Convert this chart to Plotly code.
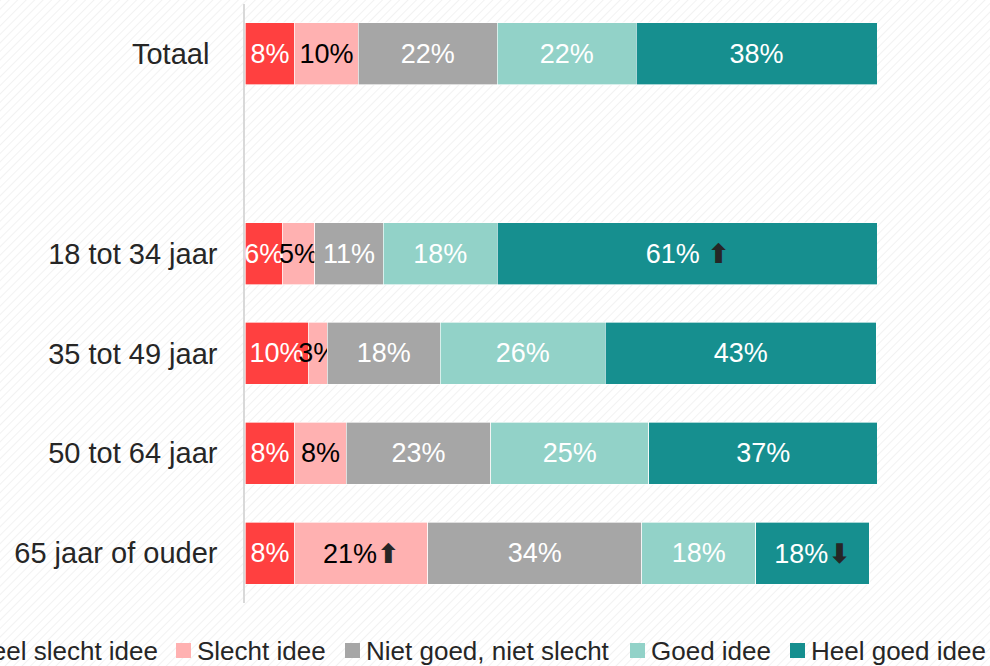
import base64
import plotly.graph_objects as go

# rijen (de lege rij zorgt voor de ruimte onder "Totaal")
categories = ["Totaal\u00a0", "18 tot 34 jaar", "35 tot 49 jaar", "50 tot 64 jaar", "65 jaar of ouder"]
axis_order = ["Totaal\u00a0", " ", "18 tot 34 jaar", "35 tot 49 jaar", "50 tot 64 jaar", "65 jaar of ouder"]

series_names = ["Heel slecht idee", "Slecht idee", "Niet goed, niet slecht", "Goed idee", "Heel goed idee"]
series_colors = ["#FF4040", "#FFB1B1", "#A6A6A6", "#92D2C8", "#168F8F"]
label_colors = ["#FFFFFF", "#000000", "#FFFFFF", "#FFFFFF", "#FFFFFF"]

heel_slecht = [7.9, 5.9, 10.0, 7.9, 7.9]
slecht = [10.0, 5.1, 3.0, 8.1, 21.0]
neutraal = [22.0, 10.9, 17.9, 22.9, 33.9]
goed = [22.0, 18.0, 26.1, 25.0, 18.0]
heel_goed = [38.1, 60.3, 42.9, 36.2, 18.0]

heel_slecht_lbl = ["8%", "6%", "10%", "8%", "8%"]
slecht_lbl = ["10%", "5%", "3%", "8%", "21%⬆"]
neutraal_lbl = ["22%", "11%", "18%", "23%", "34%"]
goed_lbl = ["22%", "18%", "26%", "25%", "18%"]
heel_goed_lbl = ["38%", "61% ⬆", "43%", "37%", "18%⬇"]

values = [heel_slecht, slecht, neutraal, goed, heel_goed]
labels = [heel_slecht_lbl, slecht_lbl, neutraal_lbl, goed_lbl, heel_goed_lbl]

FONT = "Liberation Sans, Arial, sans-serif"
ARROW = "#262626"


def fmt(t):
    # pijltjes donker kleuren
    st = f"color:{ARROW};font-family:DejaVu Sans;font-weight:bold"
    return t.replace("⬆", f"<span style='{st}'>⬆</span>").replace(
        "⬇", f"<span style='{st}'>⬇</span>")


fig = go.Figure()
for name, col, lcol, vals, lbls in zip(series_names, series_colors, label_colors, values, labels):
    fig.add_trace(go.Bar(
        y=categories, x=vals, name=name, orientation="h",
        marker=dict(color=col, line=dict(color="rgba(255,255,255,0.8)", width=0.8)),
        text=[fmt(t) for t in lbls], textposition="inside", insidetextanchor="middle",
        constraintext="none", textangle=0,
        textfont=dict(size=27, color=lcol, family=FONT),
        hoverinfo="skip", showlegend=False,
    ))

W, H = 990, 666
L, R, T, B = 245, 113, 4, 63
pw, ph = W - L - R, H - T - B


def px_x(x):
    return (x - L) / pw


def px_y(y):
    return 1 - (y - T) / ph


# achtergrond met diagonale arcering
svg = (
    f"<svg xmlns='http://www.w3.org/2000/svg' width='{W}' height='{H}'>"
    "<defs><pattern id='p' width='6' height='6' patternUnits='userSpaceOnUse' "
    "patternTransform='rotate(45)'><line x1='0' y1='0' x2='0' y2='6' stroke='#eeeeee' stroke-width='1.5'/>"
    "</pattern></defs><rect width='100%' height='100%' fill='#ffffff'/>"
    "<rect width='100%' height='100%' fill='url(#p)'/></svg>"
)
bg_src = "data:image/svg+xml;base64," + base64.b64encode(svg.encode()).decode()

# handmatige legenda (loopt links buiten beeld zoals in het origineel)
legend_sq_x = [-48, 176, 345, 630, 790]
legend_y = 650.5
shapes, annotations = [], []
for name, col, sx in zip(series_names, series_colors, legend_sq_x):
    shapes.append(dict(type="rect", xref="paper", yref="paper",
                       x0=px_x(sx), x1=px_x(sx + 15), y0=px_y(legend_y + 7.5), y1=px_y(legend_y - 7.5),
                       fillcolor=col, line=dict(width=0)))
    annotations.append(dict(xref="paper", yref="paper", x=px_x(sx + 19), y=px_y(legend_y),
                            xanchor="left", yanchor="middle", text=name, showarrow=False,
                            font=dict(size=26, color="#262626", family=FONT)))

fig.update_layout(
    width=W, height=H,
    margin=dict(l=L, r=R, t=T, b=B, autoexpand=False),
    barmode="stack", bargap=0.38,
    paper_bgcolor="white", plot_bgcolor="rgba(0,0,0,0)",
    showlegend=False,
    font=dict(family=FONT, color="#262626"),
    images=[dict(source=bg_src, xref="paper", yref="paper", x=px_x(0), y=px_y(0),
                 sizex=W / pw, sizey=H / ph, xanchor="left", yanchor="top",
                 sizing="stretch", layer="below")],
    shapes=shapes, annotations=annotations,
    xaxis=dict(range=[0, 100], visible=False, showgrid=False, zeroline=False),
    yaxis=dict(categoryorder="array", categoryarray=axis_order, range=[5.5, -0.5],
               showline=True, linecolor="#D9D9D9", linewidth=1.5, showgrid=False,
               ticks="", ticklabelstandoff=20, tickfont=dict(size=29, color="#262626", family=FONT)),
)

# body-marge van de browser weghalen zodat de figuur linksboven begint
fig.write_html("out.html", config={"displayModeBar": False},
               post_script="document.body.style.margin='0';")
